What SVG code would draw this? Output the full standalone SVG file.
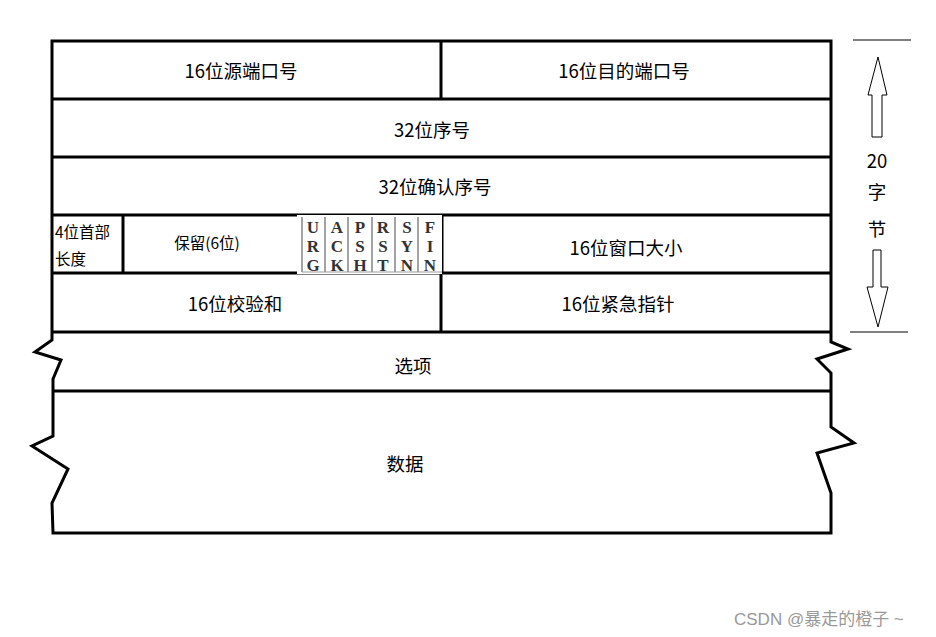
<svg xmlns="http://www.w3.org/2000/svg" width="936" height="637" viewBox="0 0 936 637">
<style>
.ln{stroke:#000;stroke-width:3;fill:none;stroke-linejoin:miter}
.t{font-family:"Microsoft YaHei","Noto Sans CJK SC","Noto Sans",sans-serif;font-size:18.5px;fill:#000;text-anchor:middle}
.s{font-family:"Noto Sans CJK SC","Noto Sans",sans-serif;font-size:15.5px;fill:#000}
.f{font-family:"Liberation Serif",serif;font-weight:bold;font-size:17px;fill:#333;text-anchor:middle}
.thin{stroke:#000;stroke-width:1;fill:#fff}
</style>
<rect width="936" height="637" fill="#fff"/>
<g id="connectors">
<path class="ln" d="M52,41 H831 V342 L848,349 L817,359 L831,373 V427 L854,443 L817,453 L831,493 V533 H53 L52,503 L68,469 L32,446 L53,436 V379 L61,360 L35,352 L52,340 Z"/>
<path class="ln" d="M52,99 H831 M52,157 H831 M52,215 H831 M52,273 H831 M52,332 H831 M52,391 H831"/>
<path class="ln" d="M441,41 V99 M441,273 V332 M123,215 V273 M442,215 V273"/>
</g>
<g id="flags">
<rect x="297" y="215" width="145" height="59" fill="#fff"/>
<path d="M302,217 V272 M325,217 V272 M348,217 V272 M372,217 V272 M395,217 V272 M418,217 V272" stroke="#666" stroke-width="1.2"/>
<path d="M302,272 H442" stroke="#999" stroke-width="1"/>
<text class="f" x="313" y="233">U</text><text class="f" x="313" y="252">R</text><text class="f" x="313" y="271">G</text>
<text class="f" x="337" y="233">A</text><text class="f" x="337" y="252">C</text><text class="f" x="337" y="271">K</text>
<text class="f" x="360" y="233">P</text><text class="f" x="360" y="252">S</text><text class="f" x="360" y="271">H</text>
<text class="f" x="383" y="233">R</text><text class="f" x="383" y="252">S</text><text class="f" x="383" y="271">T</text>
<text class="f" x="407" y="233">S</text><text class="f" x="407" y="252">Y</text><text class="f" x="407" y="271">N</text>
<text class="f" x="430" y="233">F</text><text class="f" x="430" y="252">I</text><text class="f" x="430" y="271">N</text>
</g>
<g id="src-port"><text class="t" x="241" y="78">16位源端口号</text></g>
<g id="dst-port"><text class="t" x="624" y="78">16位目的端口号</text></g>
<g id="seq"><text class="t" x="432" y="137">32位序号</text></g>
<g id="ack"><text class="t" x="435" y="194">32位确认序号</text></g>
<g id="hlen"><text class="s" x="55" y="238">4位首部</text><text class="s" x="55" y="265">长度</text></g>
<g id="reserved"><text class="s" x="207" y="249" text-anchor="middle">保留(6位)</text></g>
<g id="window"><text class="t" x="626" y="255">16位窗口大小</text></g>
<g id="checksum"><text class="t" x="235" y="311">16位校验和</text></g>
<g id="urgent"><text class="t" x="618" y="311">16位紧急指针</text></g>
<g id="options"><text class="t" x="413" y="373">选项</text></g>
<g id="data"><text class="t" x="405" y="471">数据</text></g>
<g id="size">
<path d="M853,40 H911 M850,332 H908" stroke="#000" stroke-width="1"/>
<path class="thin" d="M878,57 L887,95 H882 V137 H872 V95 H868 Z"/>
<path class="thin" d="M873,250 H881 V287 H888 L878,327 L867,287 H873 Z"/>
<text class="t" x="877" y="168">20</text>
<text class="t" x="877" y="199">字</text>
<text class="t" x="877" y="236">节</text>
</g>
<g id="watermark"><text x="734" y="625" font-family="Liberation Sans,Noto Sans CJK SC,sans-serif" font-size="17" fill="#999">CSDN @暴走的橙子 ~</text></g>
</svg>
